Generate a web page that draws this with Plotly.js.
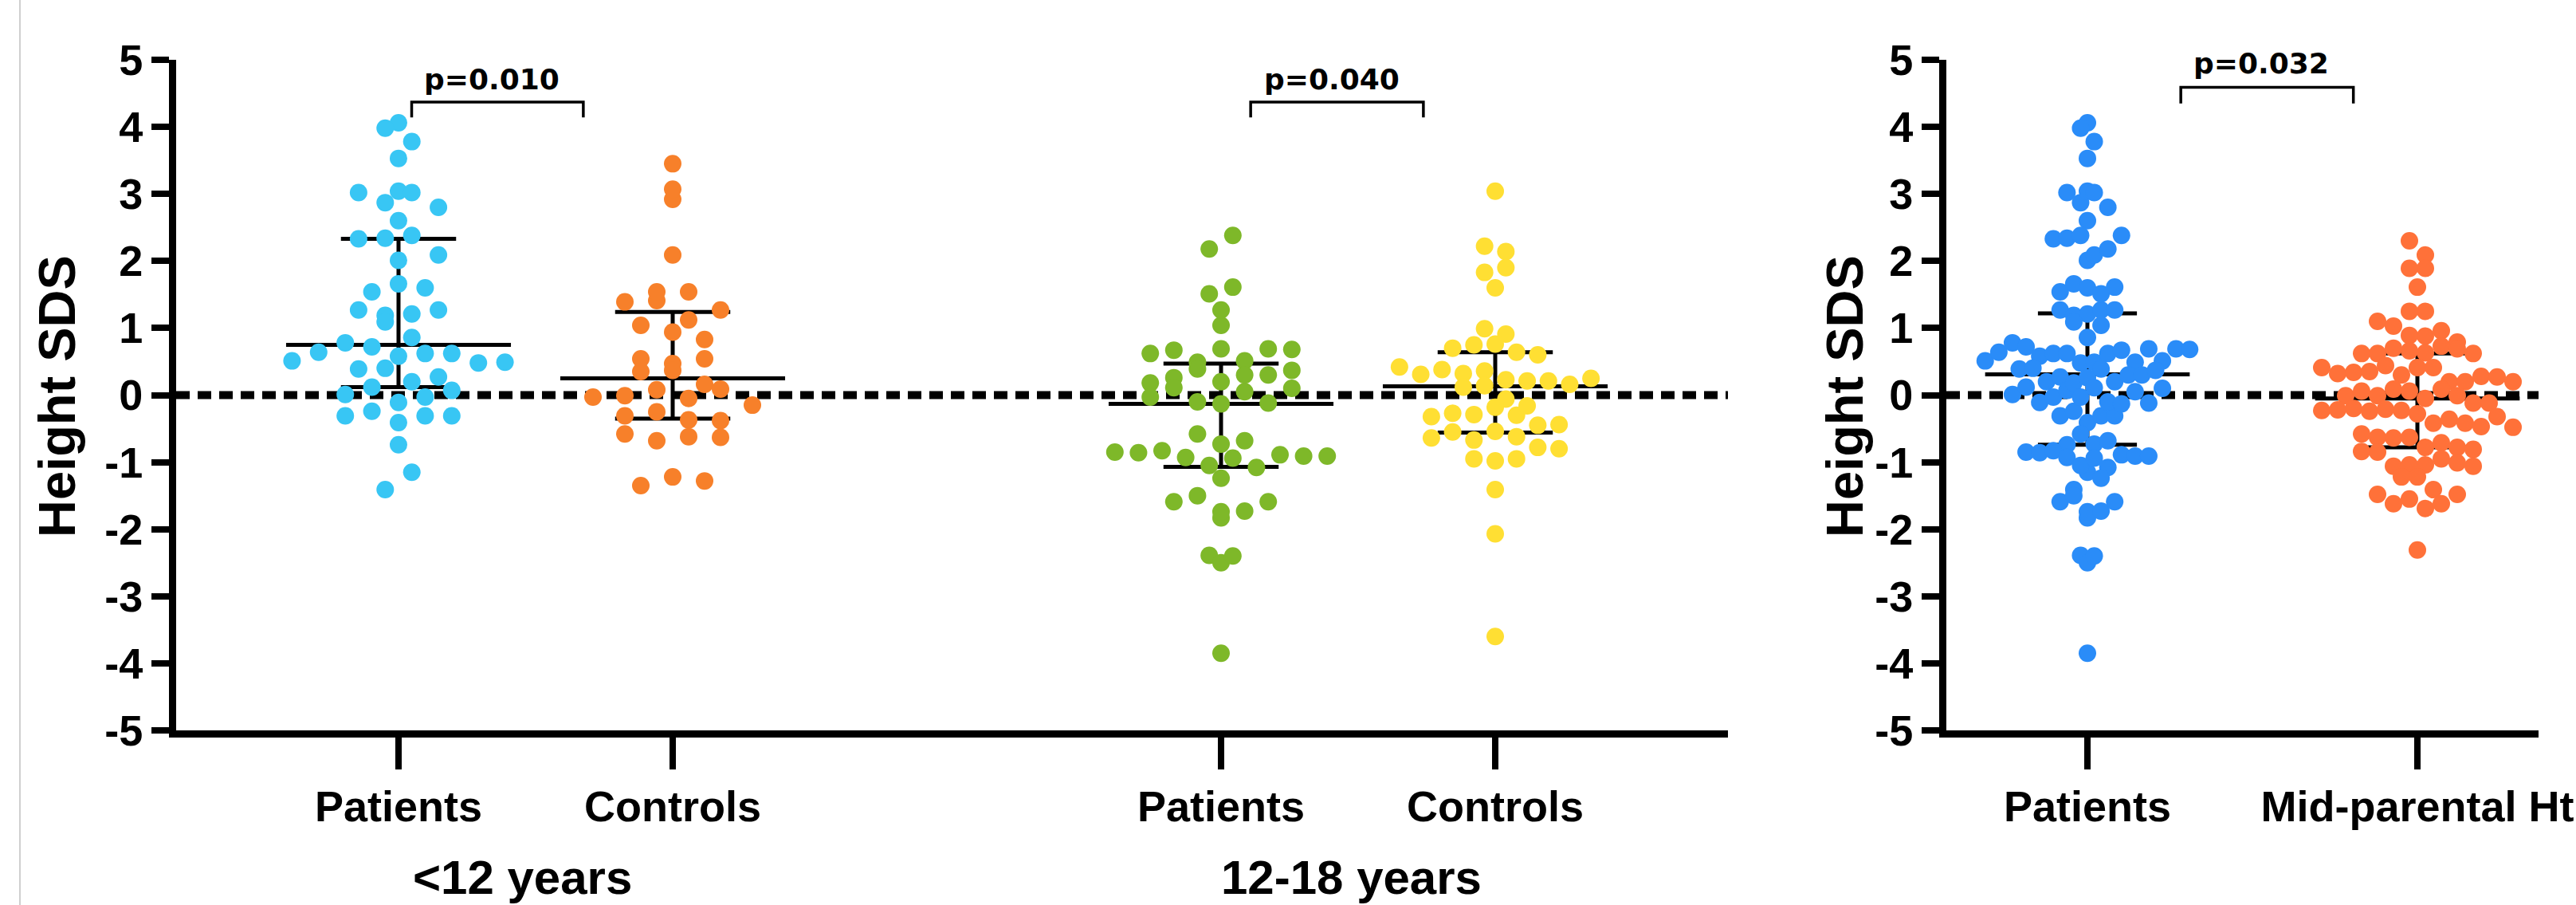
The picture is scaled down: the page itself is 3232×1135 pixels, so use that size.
<!DOCTYPE html>
<html>
<head>
<meta charset="utf-8">
<script src="https://cdn.plot.ly/plotly-3.0.1.min.js"></script>
<style>
  html, body { margin: 0; padding: 0; background: #ffffff; }
  #chart { width: 3232px; height: 1135px; }
</style>
</head>
<body>
<div id="chart"></div>
<script>
// ---------------- DATA (Height SDS) ----------------
const patientsUnder12 = [
  4.06, 3.98, 3.78,
  3.53,
  3.02, 2.87, 3.04, 3.02, 2.80,
  2.60, 2.33, 2.34, 2.38,
  2.01, 2.09,
  1.54, 1.66, 1.60,
  1.27, 1.19, 1.21, 1.09, 1.27,
  0.86,
  0.51, 0.64, 0.78, 0.72, 0.58, 0.62, 0.62, 0.48, 0.49,
  0.39, 0.40, 0.20, 0.27,
  0.01, 0.12, -0.11, -0.03, 0.07,
  -0.31, -0.24, -0.41, -0.31, -0.31,
  -0.74,
  -1.41, -1.15
];
const controlsUnder12 = [
  3.45,
  2.92, 3.07,
  2.09,
  1.39, 1.41, 1.54, 1.54,
  1.04, 0.94, 1.12, 0.83, 1.27,
  0.54, 0.47, 0.35, 0.37, 0.54,
  0.16, -0.03, -0.01, 0.08, -0.05, 0.09,
  -0.15, -0.31, -0.25, -0.37, -0.38,
  -0.58, -0.68, -0.62, -0.63,
  -1.35, -1.22, -1.28
];
const patients12to18 = [
  2.18, 2.38,
  1.51, 1.61,
  1.04, 1.27,
  0.62, 0.67, 0.49, 0.69, 0.51, 0.69, 0.68,
  0.18, 0.26, 0.39, 0.20, 0.30, 0.30, 0.37,
  -0.03, 0.11, -0.10, -0.13, 0.05, -0.12, 0.10,
  -0.58, -0.73, -0.68,
  -0.85, -0.86, -0.83, -0.93, -1.05, -0.94, -1.08, -0.89, -0.91, -0.91,
  -1.24,
  -1.59, -1.50, -1.83, -1.74, -1.73, -1.59,
  -2.39, -2.50, -2.40,
  -3.85
];
const controls12to18 = [
  3.04,
  2.22, 2.14,
  1.83, 1.90,
  1.60,
  0.99, 0.91,
  0.70, 0.75, 0.76, 0.64, 0.60,
  0.42, 0.31, 0.38, 0.32, 0.36,
  0.23, 0.21, 0.12, 0.14, 0.21, 0.16, 0.25,
  -0.06,
  -0.32, -0.27, -0.29, -0.18, -0.30, -0.16,
  -0.45, -0.44,
  -0.64, -0.55, -0.67, -0.54, -0.62,
  -0.78, -0.80,
  -0.95, -0.98, -0.95,
  -1.41, -2.07, -3.60
];
const midParentalHt = [
  2.30,
  2.09, 1.89, 1.89,
  1.61,
  1.25, 1.25,
  1.10,
  1.03,
  0.89, 0.88, 0.96,
  0.62, 0.62, 0.70, 0.66, 0.63, 0.79, 0.73, 0.69, 0.62,
  0.41, 0.32, 0.34, 0.35, 0.44, 0.30, 0.41, 0.41,
  0.20, 0.20, 0.28, 0.27, 0.20,
  -0.01, 0.06, -0.01, 0.09, 0.06, -0.05, 0.09, -0.01,
  -0.12, -0.23, -0.12, -0.22, -0.20, -0.24, -0.21, -0.23, -0.28,
  -0.42, -0.36, -0.42, -0.47, -0.32, -0.48,
  -0.58, -0.63, -0.64, -0.63,
  -0.84, -0.78, -0.71, -0.85, -0.78, -0.81,
  -1.06, -1.04, -1.04, -0.95, -1.01, -1.06,
  -1.22, -1.22,
  -1.48, -1.41, -1.62, -1.55, -1.69, -1.62, -1.48,
  -2.31
];
// all patients (both age groups) for the right-hand panel
const patientsAll = patientsUnder12.concat(patients12to18);

// medians and interquartile ranges as drawn in the figure
const leftMedians = [0.75, 0.25, -0.13, 0.13];
const leftQ1      = [0.12, -0.35, -1.07, -0.56];
const leftQ3      = [2.33, 1.24, 0.47, 0.64];
const rightMedians = [0.31, -0.05];
const rightQ1      = [-0.74, -0.78];
const rightQ3      = [1.22, 0.62];

// labels
const leftTickLabels  = ['Patients', 'Controls', 'Patients', 'Controls'];
const rightTickLabels = ['Patients', 'Mid-parental Ht'];
const ageGroupLabels  = ['<12 years', '12-18 years'];
const pValueLabels    = ['p=0.010', 'p=0.040', 'p=0.032'];
const yTickValues     = [-5, -4, -3, -2, -1, 0, 1, 2, 3, 4, 5];
const yTitle          = 'Height SDS';

// ---------------- LAYOUT GEOMETRY (pixels) ----------------
const W = 3232, H = 1135;
const plotTop = 75, plotBottom = 916;
const L = { x0: 221, x1: 2168, catPos: [1, 2, 4, 5], px1: 500, unit: 344 };
const R = { x0: 2442, x1: 3185, catPos: [1, 2], px1: 2619, unit: 414 };
L.range = [1 - (L.px1 - L.x0) / L.unit, 1 + (L.x1 - L.px1) / L.unit];
R.range = [1 - (R.px1 - R.x0) / R.unit, 1 + (R.x1 - R.px1) / R.unit];

const px2paperX = p => p / W;
const px2paperY = p => 1 - p / H;

// Prism-like column scatter: values grouped into horizontal rows (bins),
// each row spread symmetrically around the category centre.
function columnScatterX(values, center, stepUnits, binW, binOrigin) {
  const bins = new Map();
  values.forEach((v, i) => {
    const b = Math.floor((v - binOrigin) / binW + 1e-9);
    if (!bins.has(b)) bins.set(b, []);
    bins.get(b).push(i);
  });
  const xs = new Array(values.length);
  bins.forEach(idx => {
    const n = idx.length;
    idx.forEach((i, k) => { xs[i] = center + (k - (n - 1) / 2) * stepUnits; });
  });
  return xs;
}

const BIN_W = 0.32, BIN_ORIGIN = -0.17;
const MARKER = 22;

const leftGroups = [
  { vals: patientsUnder12, color: '#38C6F4', stepPx: 33.4 },
  { vals: controlsUnder12, color: '#F7802A', stepPx: 40 },
  { vals: patients12to18, color: '#7EB829', stepPx: 29.6 },
  { vals: controls12to18, color: '#FFDF33', stepPx: 26.7 }
];
const rightGroups = [
  { vals: patientsAll, color: '#2A8CF8', stepPx: 17.1 },
  { vals: midParentalHt, color: '#FF7139', stepPx: 20 }
];

const traces = [];
const BLACK = '#000000';

// dotted zero reference lines
traces.push({ x: L.range, y: [0, 0], xaxis: 'x', yaxis: 'y', mode: 'lines',
  line: { color: BLACK, width: 10, dash: '17px,10px' }, hoverinfo: 'skip' });
traces.push({ x: R.range, y: [0, 0], xaxis: 'x2', yaxis: 'y2', mode: 'lines',
  line: { color: BLACK, width: 10, dash: '17px,10px' }, hoverinfo: 'skip' });

// median + IQR lines
function summaryTrace(c, med, q1, q3, medHalf, capHalf, xa, ya) {
  return {
    x: [c - medHalf, c + medHalf, null, c - capHalf, c + capHalf, null, c - capHalf, c + capHalf, null, c, c],
    y: [med, med, null, q3, q3, null, q1, q1, null, q1, q3],
    xaxis: xa, yaxis: ya, mode: 'lines', line: { color: BLACK, width: 5 }, hoverinfo: 'skip'
  };
}
L.catPos.forEach((c, i) => traces.push(summaryTrace(c, leftMedians[i], leftQ1[i], leftQ3[i], 0.41, 0.21, 'x', 'y')));
R.catPos.forEach((c, i) => traces.push(summaryTrace(c, rightMedians[i], rightQ1[i], rightQ3[i], 0.31, 0.15, 'x2', 'y2')));

// significance brackets
function bracket(a, b, lo, hi, xa, ya) {
  return { x: [a, a, b, b], y: [lo, hi, hi, lo], xaxis: xa, yaxis: ya, mode: 'lines',
    line: { color: BLACK, width: 3.5 }, hoverinfo: 'skip' };
}
traces.push(bracket(L.catPos[0] + 0.048, L.catPos[1] - 0.326, 4.14, 4.37, 'x', 'y'));
traces.push(bracket(L.catPos[2] + 0.108, L.catPos[3] - 0.262, 4.14, 4.37, 'x', 'y'));
traces.push(bracket(R.catPos[0] + 0.283, R.catPos[1] - 0.194, 4.35, 4.59, 'x2', 'y2'));

// points
leftGroups.forEach((g, i) => {
  traces.push({
    x: columnScatterX(g.vals, L.catPos[i], g.stepPx / L.unit, BIN_W, BIN_ORIGIN),
    y: g.vals, xaxis: 'x', yaxis: 'y', mode: 'markers',
    marker: { size: MARKER, color: g.color, line: { width: 0 } }, hoverinfo: 'skip'
  });
});
rightGroups.forEach((g, i) => {
  traces.push({
    x: columnScatterX(g.vals, R.catPos[i], g.stepPx / R.unit, BIN_W, BIN_ORIGIN),
    y: g.vals, xaxis: 'x2', yaxis: 'y2', mode: 'markers',
    marker: { size: MARKER, color: g.color, line: { width: 0 } }, hoverinfo: 'skip'
  });
});

const axisFont = { family: 'Liberation Sans, Arial, sans-serif', size: 54, color: BLACK, weight: 'bold' };
const yDomain = [px2paperY(plotBottom), px2paperY(plotTop)];

function yAxis(anchor) {
  return {
    domain: yDomain, range: [-5, 5], anchor: anchor,
    tickvals: yTickValues, ticktext: yTickValues.map(String),
    showline: true, linecolor: BLACK, linewidth: 9,
    ticks: 'outside', ticklen: 22, tickwidth: 8, tickcolor: BLACK,
    showgrid: false, zeroline: false, tickfont: axisFont, fixedrange: true
  };
}
function xAxis(p, anchor, labels) {
  return {
    domain: [px2paperX(p.x0), px2paperX(p.x1)], range: p.range, anchor: anchor,
    tickvals: p.catPos, ticktext: labels,
    showline: true, linecolor: BLACK, linewidth: 9,
    ticks: 'outside', ticklen: 40, tickwidth: 8, tickcolor: BLACK,
    showgrid: false, zeroline: false, tickfont: axisFont, fixedrange: true
  };
}

const pFont = { family: 'DejaVu Sans, sans-serif', size: 36, color: BLACK, weight: 'bold' };
const titleFont = { family: 'Liberation Sans, Arial, sans-serif', size: 65, color: BLACK, weight: 'bold' };
const groupFont = { family: 'Liberation Sans, Arial, sans-serif', size: 60, color: BLACK, weight: 'bold' };

const annotations = [
  { text: pValueLabels[0], x: 1.34, y: 4.71, xref: 'x', yref: 'y', showarrow: false, font: pFont, xanchor: 'center', yanchor: 'middle' },
  { text: pValueLabels[1], x: 4.404, y: 4.71, xref: 'x', yref: 'y', showarrow: false, font: pFont, xanchor: 'center', yanchor: 'middle' },
  { text: pValueLabels[2], x: 1.527, y: 4.95, xref: 'x2', yref: 'y2', showarrow: false, font: pFont, xanchor: 'center', yanchor: 'middle' },
  { text: yTitle, x: px2paperX(71), y: px2paperY(497), xref: 'paper', yref: 'paper', textangle: -90, showarrow: false, font: titleFont, xanchor: 'center', yanchor: 'middle' },
  { text: yTitle, x: px2paperX(2314), y: px2paperY(497), xref: 'paper', yref: 'paper', textangle: -90, showarrow: false, font: titleFont, xanchor: 'center', yanchor: 'middle' },
  { text: ageGroupLabels[0], x: px2paperX(655), y: 0, xref: 'paper', yref: 'paper', showarrow: false, font: groupFont, xanchor: 'center', yanchor: 'bottom', borderpad: 0 },
  { text: ageGroupLabels[1], x: px2paperX(1695), y: 0, xref: 'paper', yref: 'paper', showarrow: false, font: groupFont, xanchor: 'center', yanchor: 'bottom', borderpad: 0 }
];

const layout = {
  width: W, height: H,
  margin: { l: 0, r: 0, t: 0, b: 0, pad: 0 },
  paper_bgcolor: '#ffffff', plot_bgcolor: 'rgba(0,0,0,0)',
  showlegend: false, hovermode: false,
  xaxis: xAxis(L, 'y', leftTickLabels),
  yaxis: yAxis('x'),
  xaxis2: xAxis(R, 'y2', rightTickLabels),
  yaxis2: yAxis('x2'),
  annotations: annotations,
  shapes: [
    { type: 'line', xref: 'paper', yref: 'paper', x0: px2paperX(25), x1: px2paperX(25), y0: 0, y1: 1,
      line: { color: '#cfcfcf', width: 2 } }
  ]
};

Plotly.newPlot('chart', traces, layout, { staticPlot: true, displayModeBar: false });
</script>
</body>
</html>
